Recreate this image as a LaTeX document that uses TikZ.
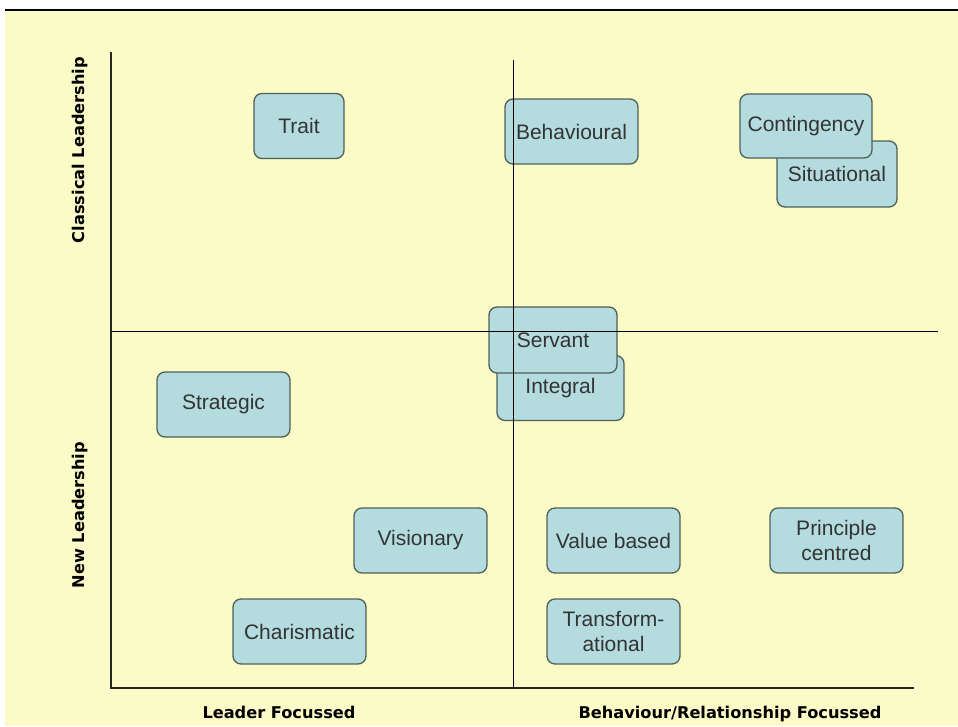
\documentclass[tikz,border=0pt]{standalone}
\usepackage{fontspec}
\setmainfont{Liberation Sans}
\newfontfamily\labfont{DejaVu Sans}
\definecolor{bgyellow}{HTML}{FBFBC8}
\definecolor{boxfill}{HTML}{B4DCDF}
\definecolor{boxdraw}{HTML}{4F5F58}
\definecolor{boxtext}{HTML}{333333}
\begin{document}
\begin{tikzpicture}[x=1pt,y=-1pt,
  qbox/.style={draw=boxdraw, line width=1.3pt, fill=boxfill, rounded corners=8pt,
    minimum width=133pt, minimum height=65pt, align=center, inner sep=2pt,
    text=boxtext, font=\fontsize{21}{25}\selectfont},
  axislab/.style={font=\labfont\bfseries\fontsize{16.2}{18}\selectfont, inner sep=0pt},
  axisline/.style={draw=black!85, line width=2.5pt},
  midline/.style={draw=black, line width=1pt}]
\useasboundingbox (0,0) rectangle (958,726);
\fill[white] (0,0) rectangle (958,726);
\fill[bgyellow] (5,11) rectangle (958,726);
\coordinate (tl) at (5,10);
\coordinate (tr) at (958,10);
\draw[black, line width=1.2pt] (tl) -- (tr);

% boxes
\node[qbox, minimum width=90pt] (trait) at (299,126) {Trait};
\node[qbox] (behav) at (571.5,131.5) {Behavioural};
\node[qbox, minimum width=120pt, minimum height=66pt] (situ) at (837,174) {Situational};
\node[qbox, minimum width=132pt, minimum height=64pt] (cont) at (806,126) {Contingency};
\node[qbox, minimum width=127pt] (integ) at (560.5,388) {Integral};
\node[qbox, minimum width=128pt, minimum height=66pt] (serv) at (553,340) {Servant};
\node[qbox] (strat) at (223.5,404.5) {Strategic};
\node[qbox] (vision) at (420.5,540.5) {Visionary};
\node[qbox] (value) at (613.5,540.5) {Value based};
\node[qbox] (princ) at (836.5,540.5) {Principle\\centred};
\node[qbox] (charis) at (299.5,631.5) {Charismatic};
\node[qbox] (trans) at (613.5,631.5) {Transform-\\ational};

% axes
\coordinate (ytop) at (111,53);
\coordinate (origin) at (111,688);
\coordinate (xend) at (913,688);
\coordinate (vtop) at (513,60);
\coordinate (vbot) at (513,688);
\coordinate (hl) at (111,331);
\coordinate (hr) at (938,331);
\draw[midline] (vtop) -- (vbot);
\draw[midline] (hl) -- (hr);
\draw[axisline, line cap=rect] (ytop) -- (origin) -- (xend);

% axis labels
\node[axislab, rotate=90] (classical) at (80,150) {Classical Leadership};
\node[axislab, rotate=90] (newlead) at (80,515) {New Leadership};
\node[axislab, anchor=base] (leader) at (279,718) {Leader Focussed};
\node[axislab, anchor=base] (behrel) at (730,718) {Behaviour/Relationship Focussed};
\end{tikzpicture}
\end{document}
